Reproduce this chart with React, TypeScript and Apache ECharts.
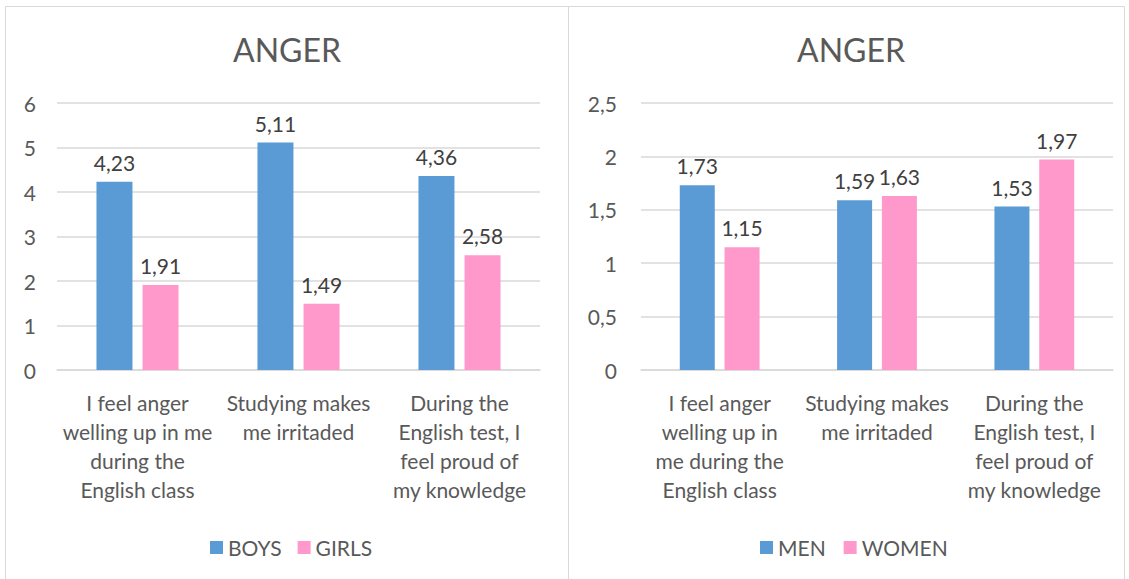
import React, { useEffect, useRef } from "react";
import * as echarts from "echarts";

const categories = [
  "I feel anger\nwelling up in me\nduring the\nEnglish class",
  "Studying makes\nme irritaded",
  "During the\nEnglish test, I\nfeel proud of\nmy knowledge",
];
const categoriesRight = [
  "I feel anger\nwelling up in\nme during the\nEnglish class",
  "Studying makes\nme irritaded",
  "During the\nEnglish test, I\nfeel proud of\nmy knowledge",
];
const boys = [4.23, 5.11, 4.36];
const girls = [1.91, 1.49, 2.58];
const men = [1.73, 1.59, 1.53];
const women = [1.15, 1.63, 1.97];

const FONT = "Lato, 'Noto Sans', sans-serif";
const BLUE = "#5B9BD5";
const PINK = "#FF99CC";
const TXT = "#595959";

const fmt = (v: number) => String(v).replace(".", ",");

export default function App() {
  const ref = useRef<HTMLDivElement>(null);
  useEffect(() => {
    document.body.style.margin = "0";
    const chart = echarts.init(ref.current!, undefined, { renderer: "svg" });
    const label = {
      show: true,
      position: "top" as const,
      distance: 9,
      color: "#404040",
      fontSize: 21,
      fontFamily: FONT,
      formatter: (p: any) => fmt(p.value),
    };
    const catAxis = (gi: number, data: string[]) => ({
      type: "category",
      gridIndex: gi,
      data,
      axisLine: { show: true, lineStyle: { color: "#D9D9D9", width: 1.5 } },
      axisTick: { show: false },
      axisLabel: {
        color: TXT,
        fontSize: 21,
        fontFamily: FONT,
        lineHeight: 29,
        margin: 18,
        interval: 0,
        align: "center",
        verticalAlign: "top",
      },
    });
    const valAxis = (gi: number, max: number, interval: number, margin: number) => ({
      type: "value",
      gridIndex: gi,
      min: 0,
      max,
      interval,
      axisLine: { show: false },
      axisTick: { show: false },
      splitLine: { lineStyle: { color: "#D9D9D9", width: 1.5 } },
      axisLabel: {
        color: TXT,
        fontSize: 21,
        fontFamily: FONT,
        margin,
        formatter: (v: number) => fmt(v),
      },
    });
    const legendText = { color: TXT, fontSize: 21, fontFamily: FONT };
    chart.setOption({
      animation: false,
      backgroundColor: "#ffffff",
      textStyle: { fontFamily: FONT },
      title: [
        {
          text: "ANGER",
          left: 282,
          top: 28,
          textAlign: "center",
          textStyle: { color: TXT, fontSize: 32, fontWeight: "normal", fontFamily: FONT },
        },
        {
          text: "ANGER",
          left: 846,
          top: 28,
          textAlign: "center",
          textStyle: { color: TXT, fontSize: 32, fontWeight: "normal", fontFamily: FONT },
        },
      ],
      legend: [
        {
          data: ["BOYS", "GIRLS"],
          left: 205,
          top: 532,
          itemWidth: 13,
          itemHeight: 13,
          itemGap: 16,
          icon: "rect",
          textStyle: legendText,
        },
        {
          data: ["MEN", "WOMEN"],
          left: 755,
          top: 532,
          itemWidth: 13,
          itemHeight: 13,
          itemGap: 18,
          icon: "rect",
          textStyle: legendText,
        },
      ],
      grid: [
        { left: 57, right: 589, top: 103, bottom: 209, containLabel: false },
        { left: 641, right: 16, top: 103, bottom: 209, containLabel: false },
      ],
      xAxis: [catAxis(0, categories), catAxis(1, categoriesRight)],
      yAxis: [valAxis(0, 6, 1, 21), valAxis(1, 2.5, 0.5, 24)],
      series: [
        { name: "BOYS", type: "bar", xAxisIndex: 0, yAxisIndex: 0, data: boys, itemStyle: { color: BLUE }, barWidth: 36, barGap: "28%", label },
        { name: "GIRLS", type: "bar", xAxisIndex: 0, yAxisIndex: 0, data: girls, itemStyle: { color: PINK }, barWidth: 36, barGap: "28%", label },
        { name: "MEN", type: "bar", xAxisIndex: 1, yAxisIndex: 1, data: men, itemStyle: { color: BLUE }, barWidth: 35, barGap: "28%", label },
        { name: "WOMEN", type: "bar", xAxisIndex: 1, yAxisIndex: 1, data: women, itemStyle: { color: PINK }, barWidth: 35, barGap: "28%", label },
      ],
      graphic: [
        { type: "rect", shape: { x: 5.5, y: 6.5, width: 563, height: 580 }, style: { fill: "none", stroke: "#D9D9D9", lineWidth: 1 }, silent: true },
        { type: "rect", shape: { x: 568.5, y: 6.5, width: 556, height: 580 }, style: { fill: "none", stroke: "#D9D9D9", lineWidth: 1 }, silent: true },
      ],
    });
    return () => chart.dispose();
  }, []);
  return <div ref={ref} style={{ width: 1129, height: 579 }} />;
}
